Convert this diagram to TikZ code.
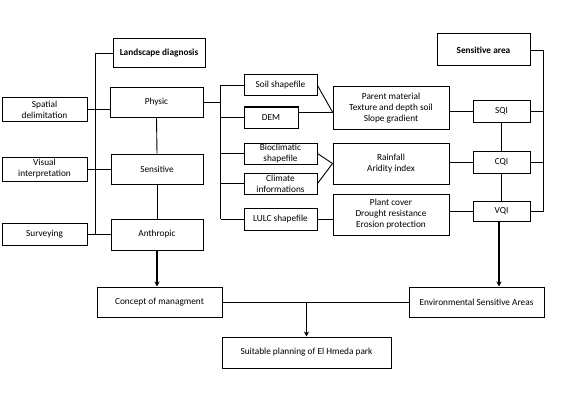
\documentclass[tikz,border=0pt]{standalone}
\usepackage{fontspec}
\setmainfont{Carlito}
\usepackage{tikz}
\usetikzlibrary{arrows.meta}

\begin{document}
\begin{tikzpicture}[x=1pt, y=-1pt,
    box/.style={draw, line width=1pt, align=center, inner sep=1pt,
        font=\fontsize{9.3}{11}\selectfont},
    link/.style={line width=0.9pt},
    arr/.style={line width=1.1pt, -{Stealth[length=5pt, width=5pt]}}]
    \useasboundingbox (0,0) rectangle (568,404);

    % Landscape diagnosis column
    \node[box, minimum width=92, minimum height=29, font=\fontsize{9.3}{11}\selectfont\bfseries] (land) at (159,53.5) {Landscape diagnosis};
    \node[box, minimum width=93, minimum height=29] (phys) at (156.5,102.5) {Physic};
    \node[box, minimum width=92, minimum height=30] (sens) at (157,169) {Sensitive};
    \node[box, minimum width=92, minimum height=31] (anth) at (157,234.5) {Anthropic};

    % Methods
    \node[box, minimum width=85, minimum height=23] (spat) at (44.5,109.5) {Spatial\\delimitation};
    \node[box, minimum width=85, minimum height=24] (visu) at (44.5,169) {Visual\\interpretation};
    \node[box, minimum width=85, minimum height=22] (surv) at (44.5,234) {Surveying};

    % Data sources
    \node[box, minimum width=73, minimum height=21] (soil) at (280.5,85.5) {Soil shapefile};
    \node[box, minimum width=54, minimum height=21] (dem) at (271,117.5) {DEM};
    \node[box, minimum width=73, minimum height=21] (bio) at (280.5,153.5) {Bioclimatic\\shapefile};
    \node[box, minimum width=73, minimum height=21] (clim) at (280.5,183.5) {Climate\\informations};
    \node[box, minimum width=73, minimum height=22] (lulc) at (280.5,219) {LULC shapefile};

    % Parameters
    \node[box, minimum width=116, minimum height=42] (parent) at (391,108) {Parent material\\Texture and depth soil\\Slope gradient};
    \node[box, minimum width=116, minimum height=41] (rain) at (391,163.5) {Rainfall\\Aridity index};
    \node[box, minimum width=116, minimum height=41] (plant) at (391,214.5) {Plant cover\\Drought resistance\\Erosion protection};

    % Quality indices
    \node[box, minimum width=93, minimum height=32, font=\fontsize{9.3}{11}\selectfont\bfseries] (sarea) at (483.5,50) {Sensitive area};
    \node[box, minimum width=57, minimum height=21] (sqi) at (501.5,111.5) {SQI};
    \node[box, minimum width=57, minimum height=22] (cqi) at (501.5,162) {CQI};
    \node[box, minimum width=57, minimum height=20] (vqi) at (501.5,211) {VQI};

    % Results
    \node[box, minimum width=125, minimum height=30] (conc) at (159.5,302) {Concept of managment};
    \node[box, minimum width=135, minimum height=30] (esa) at (476.5,302) {Environmental Sensitive Areas};
    \node[box, minimum width=169, minimum height=31] (suit) at (306.5,352.5) {Suitable planning of El Hmeda park};

    % Left bus
    \draw[link] (land.west) -- ++(-17,0) coordinate (lbus) -- (lbus |- surv.east);
    \draw[link] (spat.east) -- (spat.east -| phys.west);
    \draw[link] (visu.east) -- (sens.west);
    \draw[link] (surv.east) -- (surv.east -| anth.west);
    \draw[link] (phys.south) -- (sens.north);
    \draw[link] (sens.south) -- (anth.north);

    % Middle bus
    \draw[link] (soil.west) -- ++(-23,0) coordinate (mbus) -- (mbus |- lulc.west);
    \draw[link] (phys.east) -- (phys.east -| mbus);
    \foreach \n in {dem,bio,clim,lulc}
        \draw[link] (\n.west) -- (\n.west -| mbus);

    % Sources to parameters
    \coordinate (pin) at ([yshift=-4pt]parent.west);
    \draw[link] (soil.east) -- (pin);
    \draw[link] (dem.east |- pin) -- (pin);
    \draw[link] (bio.east) -- (rain.west);
    \draw[link] (clim.east) -- (rain.west);
    \draw[link] (lulc.east) -- (lulc.east -| plant.west);

    % Parameters to indices
    \draw[link] (sqi.west -| parent.east) -- (sqi.west);
    \draw[link] (cqi.west -| rain.east) -- (cqi.west);
    \draw[link] (vqi.west -| plant.east) -- (vqi.west);
    \draw[link] (sqi.south) -- (cqi.north);
    \draw[link] (cqi.south) -- (vqi.north);

    % Right bus
    \draw[link] (sarea.east) -- ++(13,0) coordinate (rbus) -- (rbus |- vqi.east) -- (vqi.east);
    \draw[link] (sqi.east) -- (sqi.east -| rbus);
    \draw[link] (cqi.east) -- (cqi.east -| rbus);

    % Outputs
    \draw[arr] (anth.south) -- (anth.south |- conc.north);
    \draw[arr] ([xshift=-2.5pt]vqi.south) -- ([xshift=-2.5pt]vqi.south |- esa.north);
    \draw[link] (conc.east) -- (esa.west);
    \draw[arr] (conc.east -| suit.north) -- (suit.north);
\end{tikzpicture}
\end{document}
